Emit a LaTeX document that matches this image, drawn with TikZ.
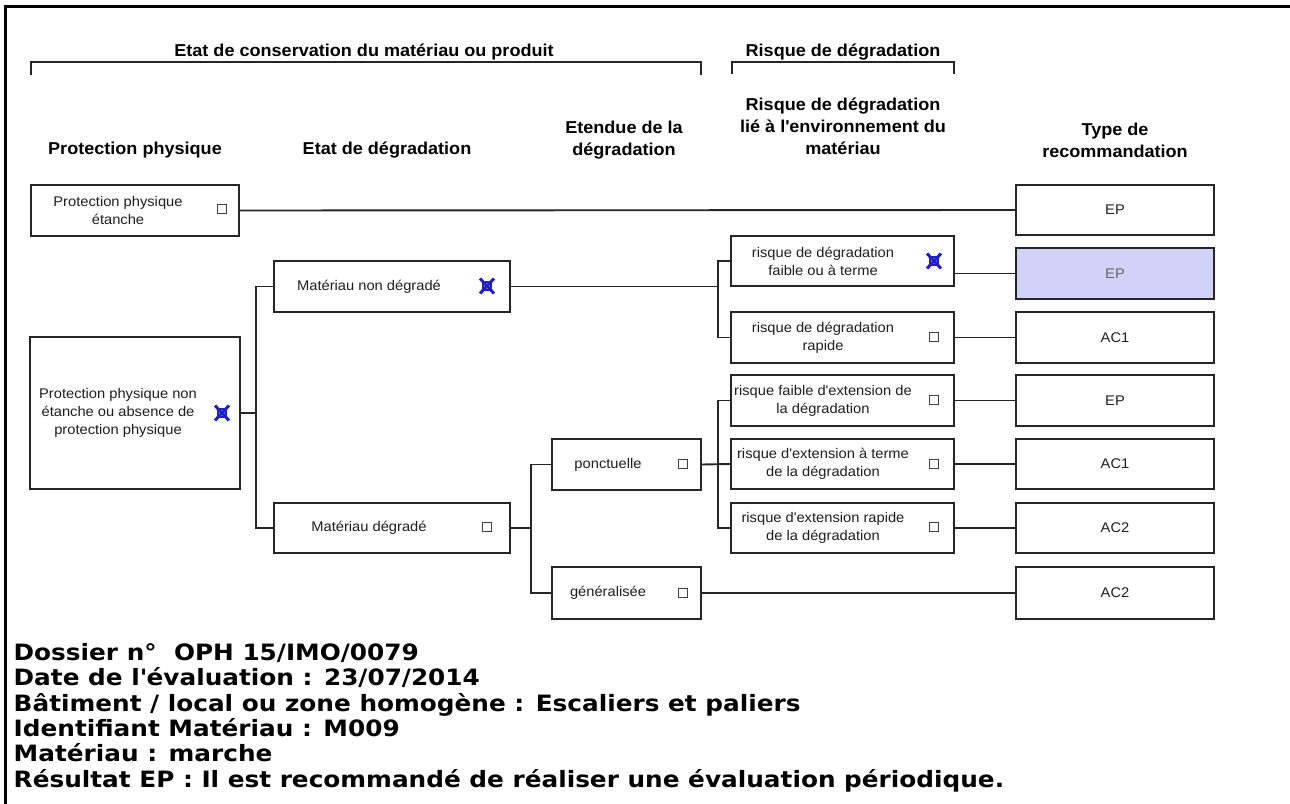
\documentclass[tikz,border=0pt]{standalone}
\usepackage{fontspec}
\setmainfont{Liberation Sans}[FakeStretch=1.05]
\newfontfamily\botfont{DejaVu Sans}[FakeStretch=1.10]
\usetikzlibrary{shapes.misc}
\definecolor{xblue}{RGB}{30,30,205}
\definecolor{epfill}{RGB}{208,211,247}
\newcommand\myq{\textquotesingle}
\begin{document}
\begin{tikzpicture}[x=1pt,y=-1pt,
  boxst/.style={draw=black!85,line width=1.9pt,inner sep=0pt,fill=white},
  link/.style={draw=black!85,line width=1.9pt},
  hdr/.style={font=\bfseries\fontsize{17.2}{22}\selectfont,align=center,inner sep=0pt},
  lbl/.style={font=\fontsize{14}{18}\selectfont,align=center,inner sep=0pt,text=black!88},
  cb/.style={draw=black!75,line width=1.2pt,minimum size=9.5pt,inner sep=0pt},
  cbsq/.style={draw=xblue,line width=1.2pt,minimum size=8pt,inner sep=0pt},
  xmark/.style={cross out,draw=xblue,line width=3pt,minimum width=11pt,minimum height=12pt,inner sep=0pt},
  bot/.style={font=\botfont\bfseries\fontsize{22.5}{25}\selectfont,anchor=base west,inner sep=0pt}
]
\useasboundingbox (0,0) rectangle (1290,803);
\fill[white] (-10,-10) rectangle (1300,813);
% outer frame
\draw[line width=2.4pt,black] (5.5,810) -- (5.5,6.5) -- (1300,6.5);

% top headings and brackets
\node[hdr] (t1) at (364,52) {Etat de conservation du matériau ou produit};
\node[hdr] (t2) at (843,52) {Risque de dégradation};
\draw[link] (31,75) -- (31,62) -- (701,62) -- (701,75);
\draw[link] (732,74) -- (732,62) -- (954,62) -- (954,74);

% column headings
\node[hdr] (h1) at (135,150) {Protection physique};
\node[hdr] (h2) at (387,150) {Etat de dégradation};
\node[hdr] (h3) at (624,140.5) {Etendue de la\\dégradation};
\node[hdr] (h4) at (843,126.7) {Risque de dégradation\\lié à l\myq environnement du\\matériau};
\node[hdr] (h5) at (1115,140) {Type de\\recommandation};

% column 1
\node[boxst,minimum width=208pt,minimum height=51pt] (B1) at (135,210.5) {};
\node[lbl] (B1t) at (118,210.5) {Protection physique\\étanche};
\node[cb] (B1c) at (222,209) {};

\node[boxst,minimum width=210pt,minimum height=152pt] (B2) at (135,413) {};
\node[lbl] (B2t) at (118,413) {Protection physique non\\étanche ou absence de\\protection physique};
\node[cbsq] (B2s) at (222,413) {};
\node[xmark] (B2x) at (222,413) {};

% column 2
\node[boxst,minimum width=236pt,minimum height=51pt] (MND) at (392,286.5) {};
\node[lbl] (MNDt) at (369,286.5) {Matériau non dégradé};
\node[cbsq] (MNDs) at (487,286) {};
\node[xmark] (MNDx) at (487,286) {};

\node[boxst,minimum width=236pt,minimum height=50pt] (MD) at (392,528) {};
\node[lbl] (MDt) at (369,528) {Matériau dégradé};
\node[cb] (MDc) at (487,527) {};

% column 3
\node[boxst,minimum width=149pt,minimum height=51pt] (PO) at (626.5,464.5) {};
\node[lbl] (POt) at (608,464.5) {ponctuelle};
\node[cb] (POc) at (683,464) {};

\node[boxst,minimum width=149pt,minimum height=52pt] (GE) at (626.5,593) {};
\node[lbl] (GEt) at (608,593) {généralisée};
\node[cb] (GEc) at (683,593) {};

% column 4
\node[boxst,minimum width=223pt,minimum height=50pt] (R1) at (842.5,261) {};
\node[lbl] (R1t) at (823,261) {risque de dégradation\\faible ou à terme};
\node[cbsq] (R1s) at (934,261) {};
\node[xmark] (R1x) at (934,261) {};

\node[boxst,minimum width=223pt,minimum height=51pt] (R2) at (842.5,337.5) {};
\node[lbl] (R2t) at (823,337.5) {risque de dégradation\\rapide};
\node[cb] (R2c) at (934,337) {};

\node[boxst,minimum width=223pt,minimum height=51pt] (R3) at (842.5,400.5) {};
\node[lbl] (R3t) at (823,400.5) {risque faible d\myq extension de\\la dégradation};
\node[cb] (R3c) at (934,400) {};

\node[boxst,minimum width=223pt,minimum height=50pt] (R4) at (842.5,464) {};
\node[lbl] (R4t) at (823,464) {risque d\myq extension à terme\\de la dégradation};
\node[cb] (R4c) at (934,464) {};

\node[boxst,minimum width=223pt,minimum height=50pt] (R5) at (842.5,528) {};
\node[lbl] (R5t) at (823,528) {risque d\myq extension rapide\\de la dégradation};
\node[cb] (R5c) at (934,527) {};

% column 5
\node[boxst,minimum width=198pt,minimum height=50pt] (C1) at (1115,210) {};
\node[lbl] (C1t) at (1115,210) {EP};
\node[boxst,fill=epfill,minimum width=198pt,minimum height=51pt] (C2) at (1115,273.5) {};
\node[lbl,text=black!60] (C2t) at (1115,273.5) {EP};
\node[boxst,minimum width=198pt,minimum height=51pt] (C3) at (1115,337.5) {};
\node[lbl] (C3t) at (1115,337.5) {AC1};
\node[boxst,minimum width=198pt,minimum height=51pt] (C4) at (1115,400.5) {};
\node[lbl] (C4t) at (1115,400.5) {EP};
\node[boxst,minimum width=198pt,minimum height=50pt] (C5) at (1115,464) {};
\node[lbl] (C5t) at (1115,464) {AC1};
\node[boxst,minimum width=198pt,minimum height=50pt] (C6) at (1115,528) {};
\node[lbl] (C6t) at (1115,528) {AC2};
\node[boxst,minimum width=198pt,minimum height=52pt] (C7) at (1115,593) {};
\node[lbl] (C7t) at (1115,593) {AC2};

% junction coordinates
\coordinate (j1) at (256,413);
\coordinate (j2) at (718,286.5);
\coordinate (j3) at (531,528);
\coordinate (j4) at (718,464);

% connectors
\draw[link] (B1.east) -- (C1.west);
\draw[link] (B2.east) -- (j1);
\draw[link] (MND.west) -| (j1) |- (MD.west);
\draw[link] (MND.east) -- (j2);
\draw[link] (R1.west) -| (j2) |- (R2.west);
\draw[link] (MD.east) -- (j3);
\draw[link] (PO.west) -| (j3) |- (GE.west);
\draw[link] (PO.east) -- (R4.west);
\draw[link] (R3.west) -| (j4) |- (R5.west);
\draw[link] (C2.west) -- (C2.west -| R1.east);
\draw[link] (R2.east) -- (C3.west);
\draw[link] (R3.east) -- (C4.west);
\draw[link] (R4.east) -- (C5.west);
\draw[link] (R5.east) -- (C6.west);
\draw[link] (GE.east) -- (C7.west);

% bottom text
\node[bot] (L1) at (13.5,660.5) {Dossier n°~ OPH 15/IMO/0079};
\node[bot] (L2) at (13.5,685.8) {Date de l\myq évaluation : 23/07/2014};
\node[bot] (L3) at (13.5,711.1) {Bâtiment / local ou zone homogène : Escaliers et paliers};
\node[bot] (L4) at (13.5,736.4) {Identifiant Matériau : M009};
\node[bot] (L5) at (13.5,761.7) {Matériau : marche};
\node[bot] (L6) at (13.5,787) {Résultat EP : Il est recommandé de réaliser une évaluation périodique.};
\end{tikzpicture}
\end{document}
